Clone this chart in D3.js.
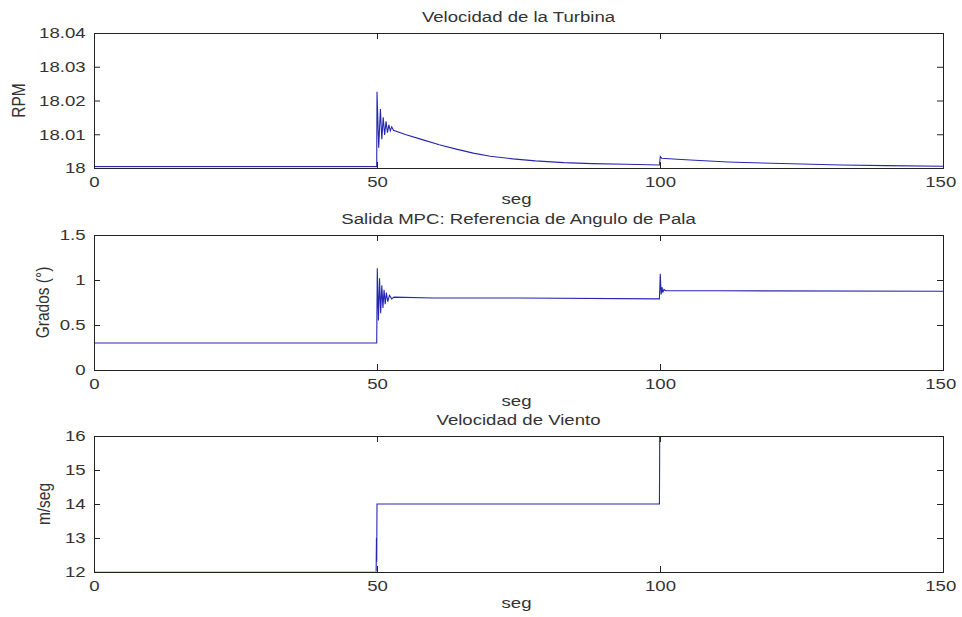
<!DOCTYPE html>
<html>
<head>
<meta charset="utf-8">
<script src="https://cdn.jsdelivr.net/npm/d3@7"></script>
<style>
  body { margin: 0; background: #fff; }
  text { font-family: "Liberation Sans", Arial, sans-serif; font-size: 15.5px; fill: #333; }
</style>
</head>
<body>
<svg id="chart" width="962" height="617"></svg>
<script>
// x axis (seconds) shared by all three panels
var xTicks = [0, 50, 100, 150]

// Velocidad de la Turbina (RPM)
var rpmTime = [0, 49.95, 50.0, 50.3, 50.6, 50.85, 51.1, 51.35, 51.6, 51.85, 52.1, 52.35, 52.6, 52.9,
               55, 58, 61, 64, 67, 70, 74, 78, 83, 88, 94, 99.9,
               100.05, 100.3, 103, 107, 112, 118, 125, 132, 140, 150]
var rpmValue = [18.0004, 18.0004, 18.0226, 18.0060, 18.0175, 18.0085, 18.0150, 18.0098, 18.0138, 18.0105, 18.0128, 18.0110, 18.0122, 18.0112,
                18.0099, 18.0084, 18.0069, 18.0056, 18.0044, 18.0035, 18.0027, 18.0021, 18.0016, 18.0013, 18.0011, 18.0009,
                18.0034, 18.0029, 18.0026, 18.0022, 18.0018, 18.0015, 18.0012, 18.0009, 18.0007, 18.0005]
var rpmTicks = [18, 18.01, 18.02, 18.03, 18.04]
var rpmLabels = ["18", "18.01", "18.02", "18.03", "18.04"]

// Salida MPC: referencia de angulo de pala (grados)
var angTime = [0, 49.95, 50.05, 50.25, 50.45, 50.65, 50.85, 51.05, 51.25, 51.45, 51.65, 51.9, 52.2, 52.6, 53,
               60, 75, 99.9, 100.05, 100.2, 100.35, 100.5, 100.7, 101, 110, 150]
var angValue = [0.3, 0.3, 1.13, 0.55, 1.02, 0.63, 0.94, 0.69, 0.89, 0.73, 0.86, 0.76, 0.83, 0.79, 0.81,
                0.80, 0.80, 0.79, 1.07, 0.84, 0.92, 0.86, 0.895, 0.88, 0.88, 0.875]
var angTicks = [0, 0.5, 1, 1.5]
var angLabels = ["0", "0.5", "1", "1.5"]

// Velocidad de viento (m/seg)
var windTime = [0, 49.85, 49.9, 49.95, 50.0, 99.9, 99.95, 100.0, 100.05, 150]
var windValue = [12, 12, 13.0, 12.3, 14, 14, 16, 15.85, 16, 16]
var windTicks = [12, 13, 14, 15, 16]
var windLabels = ["12", "13", "14", "15", "16"]

var titles = ["Velocidad de la Turbina", "Salida MPC: Referencia de Angulo de Pala", "Velocidad de Viento"]
var yTitles = ["RPM", "Grados (\u00b0)", "m/seg"]
var xTitle = "seg"

var dimensions = {
    width: 962,
    height: 617,
    left: 94,
    right: 943,
    tops: [33, 235, 436],
    bottoms: [168, 370, 572],
    yTitleX: [25, 49, 50]
}
var stretch = 1.2   // text in the picture is a bit wide
var lineColor = "#2626b0"
var axisColor = "#222"

var panels = [
    {time: rpmTime, value: rpmValue, ticks: rpmTicks, labels: rpmLabels, domain: [18, 18.04]},
    {time: angTime, value: angValue, ticks: angTicks, labels: angLabels, domain: [0, 1.5]},
    {time: windTime, value: windValue, ticks: windTicks, labels: windLabels, domain: [12, 16]}
]

var svg = d3.select("#chart")

var xScale = d3.scaleLinear()
    .domain([0, 150])
    .range([dimensions.left, dimensions.right])

panels.forEach(function(p, i) {
    var top = dimensions.tops[i]
    var bottom = dimensions.bottoms[i]

    var yScale = d3.scaleLinear()
        .domain(p.domain)
        .range([bottom, top])

    var g = svg.append("g")

    // values on the box edge are hidden by the box, as in the picture
    g.append("clipPath").attr("id", "clip" + i)
        .append("rect")
        .attr("x", dimensions.left).attr("y", top + 1)
        .attr("width", dimensions.right - dimensions.left).attr("height", bottom - top - 1.5)

    var pts = p.time.map((t, k) => [t, p.value[k]])
    g.append("path")
        .datum(pts)
        .attr("clip-path", "url(#clip" + i + ")")
        .attr("fill", "none")
        .attr("stroke", lineColor)
        .attr("stroke-width", 1.1)
        .attr("d", d3.line().x(d => xScale(d[0])).y(d => yScale(d[1])))

    // bottom axis with labels
    var xAxis = g.append("g")
        .attr("transform", `translate(0,${bottom})`)
        .call(d3.axisBottom(xScale).tickValues(xTicks).tickSize(-6).tickPadding(8).tickSizeOuter(0))
    // top axis, ticks only
    var xAxisTop = g.append("g")
        .attr("transform", `translate(0,${top})`)
        .call(d3.axisTop(xScale).tickValues(xTicks).tickSize(-6).tickFormat("").tickSizeOuter(0))
    // left axis with labels
    var yAxis = g.append("g")
        .attr("transform", `translate(${dimensions.left},0)`)
        .call(d3.axisLeft(yScale).tickValues(p.ticks).tickSize(-6).tickPadding(7)
            .tickFormat((d, k) => p.labels[k]).tickSizeOuter(0))
    // right axis, ticks only
    var yAxisRight = g.append("g")
        .attr("transform", `translate(${dimensions.right},0)`)
        .call(d3.axisRight(yScale).tickValues(p.ticks).tickSize(-6).tickFormat("").tickSizeOuter(0))

    ;[xAxis, xAxisTop, yAxis, yAxisRight].forEach(function(a) {
        a.select(".domain").remove()
        a.selectAll("line").attr("stroke", axisColor)
        a.selectAll("text")
            .attr("fill", "#333")
            .style("font-size", "15.5px")
            .attr("transform", `scale(${stretch},1)`)
    })
    xAxis.selectAll("text").filter(d => d == 150).attr("dx", "-0.15em")

    // box
    g.append("rect")
        .attr("x", dimensions.left + 0.5)
        .attr("y", top + 0.5)
        .attr("width", dimensions.right - dimensions.left)
        .attr("height", bottom - top)
        .attr("fill", "none")
        .attr("stroke", axisColor)
        .attr("stroke-width", 1)
        .attr("shape-rendering", "crispEdges")

    var cx = (dimensions.left + dimensions.right) / 2

    g.append("text")
        .attr("text-anchor", "middle")
        .attr("transform", `translate(${cx},${top - 11}) scale(${stretch},1)`)
        .text(titles[i])

    g.append("text")
        .attr("text-anchor", "middle")
        .attr("transform", `translate(${cx - 2},${bottom + 36}) scale(${stretch},1)`)
        .text(xTitle)

    g.append("text")
        .attr("text-anchor", "middle")
        .attr("transform", `translate(${dimensions.yTitleX[i]},${(top + bottom) / 2}) rotate(-90) scale(1,${stretch})`)
        .text(yTitles[i])
})
</script>
</body>
</html>
